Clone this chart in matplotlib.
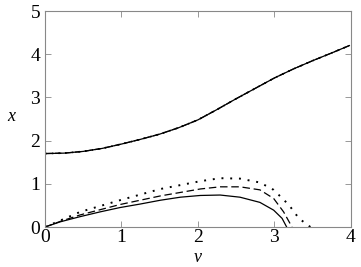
import matplotlib
matplotlib.use("Agg")
import matplotlib.pyplot as plt
from matplotlib import font_manager

# upper branch (all three curves overlap)
v_up = [0.0, 0.25, 0.5, 0.75, 1.0, 1.25, 1.5, 1.75, 2.0, 2.25, 2.5,
        2.75, 3.0, 3.25, 3.5, 3.75, 3.98]
x_up = [1.70, 1.71, 1.75, 1.82, 1.92, 2.03, 2.15, 2.30, 2.48, 2.72, 2.97,
        3.21, 3.45, 3.66, 3.85, 4.03, 4.20]

# lower branches
v_solid = [0.0, 0.2, 0.46, 0.72, 0.98, 1.24, 1.51, 1.77, 2.03, 2.29, 2.55,
           2.81, 2.99, 3.10, 3.16]
x_solid = [0.0, 0.12, 0.24, 0.35, 0.45, 0.53, 0.62, 0.69, 0.73, 0.74, 0.69,
           0.57, 0.39, 0.20, 0.0]

v_dash = [0.0, 0.2, 0.46, 0.98, 1.51, 2.03, 2.29, 2.55, 2.81, 2.99, 3.12, 3.23]
x_dash = [0.0, 0.13, 0.28, 0.52, 0.72, 0.88, 0.93, 0.93, 0.86, 0.66, 0.35, 0.0]

v_dot = [0.0, 0.2, 0.46, 0.98, 1.51, 2.03, 2.29, 2.55, 2.81, 2.99, 3.19, 3.32, 3.47]
x_dot = [0.0, 0.15, 0.35, 0.62, 0.88, 1.06, 1.13, 1.12, 1.03, 0.86, 0.51, 0.20, 0.0]

# make sure the Times-like serif is picked up
for f in font_manager.findSystemFonts():
    if "LiberationSerif" in f:
        font_manager.fontManager.addfont(f)
plt.rcParams["font.family"] = ["Liberation Serif", "DejaVu Serif"]

fig = plt.figure(figsize=(3.61, 2.67), dpi=100)
ax = fig.add_axes([0.1247, 0.1498, 0.8473, 0.809])

ax.plot(v_up, x_up, color="black", lw=0.9, ls="-")
ax.plot(v_up, x_up, color="black", lw=0.9, ls=(0, (5, 3)))
ax.plot(v_up, x_up, color="black", lw=1.2, ls=(0, (1, 3)))
ax.plot(v_solid, x_solid, color="black", lw=0.9, ls="-")
ax.plot(v_dash, x_dash, color="black", lw=0.9, ls=(0, (6, 3)))
ax.plot(v_dot, x_dot, color="black", lw=1.4, ls=(0, (1, 3.5)))

ax.set_xlim(0, 4)
ax.set_ylim(0, 5)
ax.set_xticks([0, 1, 2, 3, 4])
ax.set_yticks([0, 1, 2, 3, 4, 5])
ax.tick_params(direction="in", length=4, width=0.6, color="#888888",
               top=True, right=True, labelsize=14, pad=1.5)
ax.tick_params(axis="y", pad=3.5)
for s in ax.spines.values():
    s.set_color("#888888")
    s.set_linewidth(0.8)

ax.set_xlabel("v", fontsize=13, style="italic", labelpad=2)
ax.set_ylabel("x", fontsize=13, style="italic", rotation=0)
ax.yaxis.set_label_coords(-0.11, 0.47)

fig.savefig("out.png", dpi=100)
